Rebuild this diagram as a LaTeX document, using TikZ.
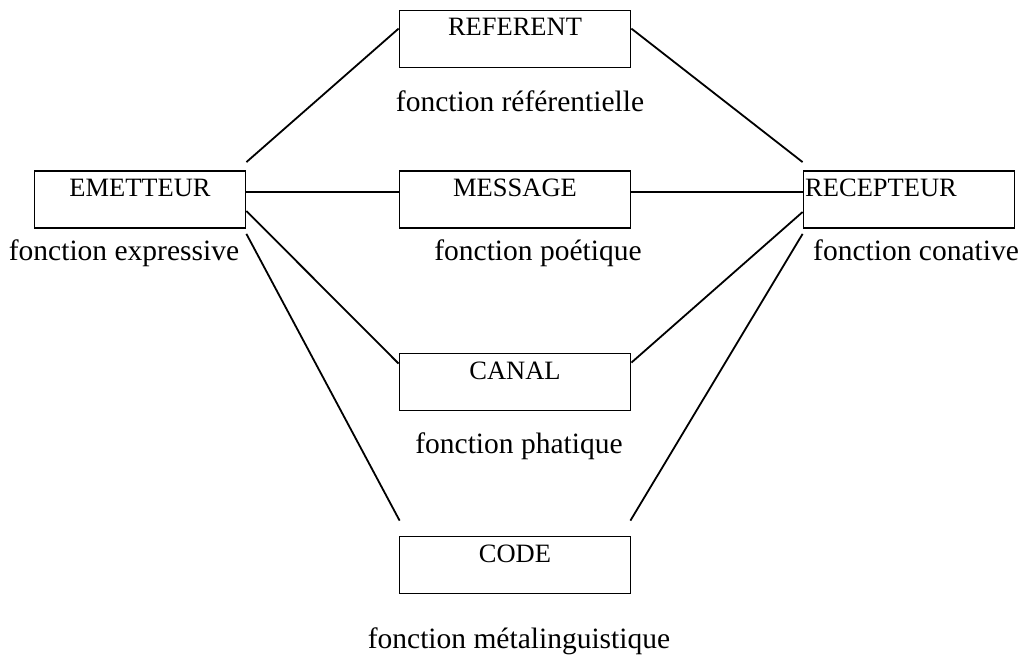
\documentclass[tikz,border=0pt]{standalone}
\usepackage{fontspec}
\setmainfont{Liberation Serif}
\usetikzlibrary{calc}
\begin{document}
\begin{tikzpicture}[x=1pt,y=-1pt,
  box/.style={draw, line width=1.8pt, rectangle, inner sep=0pt, minimum width=231pt, minimum height=57pt},
  wbox/.style={box, minimum width=211pt},
  title/.style={font=\fontsize{26.5}{26.5}\selectfont, anchor=base, inner sep=0pt},
  func/.style={font=\fontsize{29.5}{29.5}\selectfont, anchor=base, inner sep=0pt},
  link/.style={line width=1.8pt}]
\useasboundingbox (0,0) rectangle (1027,660);
% boxes
\node[box]  (ref)   at (515,39)    {};
\node[wbox] (em)    at (140,199.5) {};
\node[box]  (msg)   at (515,199.5) {};
\node[wbox] (rec)   at (909,199.5) {};
\node[box]  (canal) at (515,382)   {};
\node[box]  (code)  at (515,565)   {};
% box titles
\node[title] (tref)   at (515,36)  {REFERENT};
\node[title] (tem)    at (140,197) {EMETTEUR};
\node[title] (tmsg)   at (515,197) {MESSAGE};
\node[title, anchor=base west] (trec) at (805,197) {RECEPTEUR};
\node[title] (tcanal) at (515,379) {CANAL};
\node[title] (tcode)  at (515,562) {CODE};
% function labels
\node[func] (fref)   at (520,112) {fonction référentielle};
\node[func] (fem)    at (124,260) {fonction expressive};
\node[func] (fmsg)   at (538,260) {fonction poétique};
\node[func] (frec)   at (916,260) {fonction conative};
\node[func] (fcanal) at (519,453) {fonction phatique};
\node[func] (fcode)  at (519,648) {fonction métalinguistique};
% connector end points
\coordinate (em1)  at ($(em.north east)+(0,-8)$);
\coordinate (ref1) at ($(ref.north west)+(0,19)$);
\coordinate (ref2) at ($(ref.north east)+(0,19)$);
\coordinate (rec1) at ($(rec.north west)+(0,-8)$);
\coordinate (em2)  at ($(em.east)+(0,-7.5)$);
\coordinate (msg1) at ($(msg.west)+(0,-7.5)$);
\coordinate (msg2) at ($(msg.east)+(0,-7.5)$);
\coordinate (rec2) at ($(rec.west)+(0,-7.5)$);
\coordinate (em3)  at ($(em.east)+(0,11.5)$);
\coordinate (can1) at ($(canal.north west)+(0,11)$);
\coordinate (rec3) at ($(rec.west)+(0,12.5)$);
\coordinate (can2) at ($(canal.north east)+(0,10)$);
\coordinate (em4)  at ($(em.south east)+(0,5)$);
\coordinate (cod1) at ($(code.north west)+(1,-15)$);
\coordinate (rec4) at ($(rec.south west)+(0,5)$);
\coordinate (cod2) at ($(code.north east)+(-1,-15)$);
% connectors
\draw[link] (em1) -- (ref1);
\draw[link] (ref2) -- (rec1);
\draw[link] (em2) -- (msg1);
\draw[link] (msg2) -- (rec2);
\draw[link] (em3) -- (can1);
\draw[link] (rec3) -- (can2);
\draw[link] (em4) -- (cod1);
\draw[link] (rec4) -- (cod2);
\end{tikzpicture}
\end{document}
